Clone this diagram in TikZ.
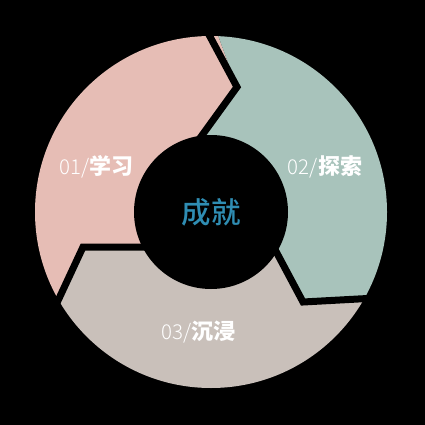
\documentclass[tikz,border=0pt]{standalone}
\usepackage{fontspec}
\newfontfamily\cjk{Noto Sans CJK SC}
\newfontfamily\cjklight{Noto Sans CJK SC Light}
\newfontfamily\cjkmed{Noto Sans CJK SC Medium}
\definecolor{pinkseg}{HTML}{E6BDB5}
\definecolor{tealseg}{HTML}{A8C3BB}
\definecolor{beigeseg}{HTML}{C9C0BA}
\definecolor{centerblue}{HTML}{2F8DB3}
\tikzset{
  gapline/.style={black, line width=7pt, line join=miter},
  seglabel/.style={text=white, inner sep=0pt, anchor=center},
}
\begin{document}
\begin{tikzpicture}[x=1pt,y=-1pt]
\fill[black] (0,0) rectangle (425,425);
\useasboundingbox (0,0) rectangle (425,425);
\coordinate (C) at (211,212);
\begin{scope}
  \clip (C) circle (176);
  \fill[pinkseg] (C) -- (202,135) -- (237,87) -- (205,0) -- (0,0) -- (0,340) -- (45,329) -- (83,247) -- (142,247) -- cycle;
  \fill[tealseg] (C) -- (202,135) -- (237,87) -- (205,0) -- (425,0) -- (425,295) -- (390,297) -- (303,302) -- (277,254) -- cycle;
  \fill[beigeseg] (C) -- (277,254) -- (303,302) -- (390,297) -- (425,295) -- (425,425) -- (0,425) -- (0,340) -- (45,329) -- (83,247) -- (142,247) -- cycle;
\end{scope}
\coordinate (t1) at (195,145); \coordinate (t2) at (237,87); \coordinate (t3) at (200,18);
\coordinate (r1) at (271,242); \coordinate (r2) at (303,302); \coordinate (r3) at (395,297);
\coordinate (l1) at (150,247); \coordinate (l2) at (83,247); \coordinate (l3) at (42,335);
\draw[gapline] (t1) -- (t2) -- (t3);
\draw[gapline] (r1) -- (r2) -- (r3);
\draw[gapline] (l1) -- (l2) -- (l3);
\fill[black] (C) circle (77);
\node[seglabel] (lab1) at (96.5,167) {\cjklight\fontsize{20.5}{20.5}\selectfont 01/\cjk\bfseries\fontsize{22}{22}\selectfont 学习};
\node[seglabel] (lab2) at (325,167) {\cjklight\fontsize{20.5}{20.5}\selectfont 02/\cjk\bfseries\fontsize{22}{22}\selectfont 探索};
\node[seglabel] (lab3) at (198.5,332) {\cjklight\fontsize{20.5}{20.5}\selectfont 03/\cjk\bfseries\fontsize{22}{22}\selectfont 沉浸};
\node[inner sep=0pt, text=centerblue] (core) at (C) {\cjkmed\fontsize{29.5}{29.5}\selectfont 成就};
\end{tikzpicture}
\end{document}
